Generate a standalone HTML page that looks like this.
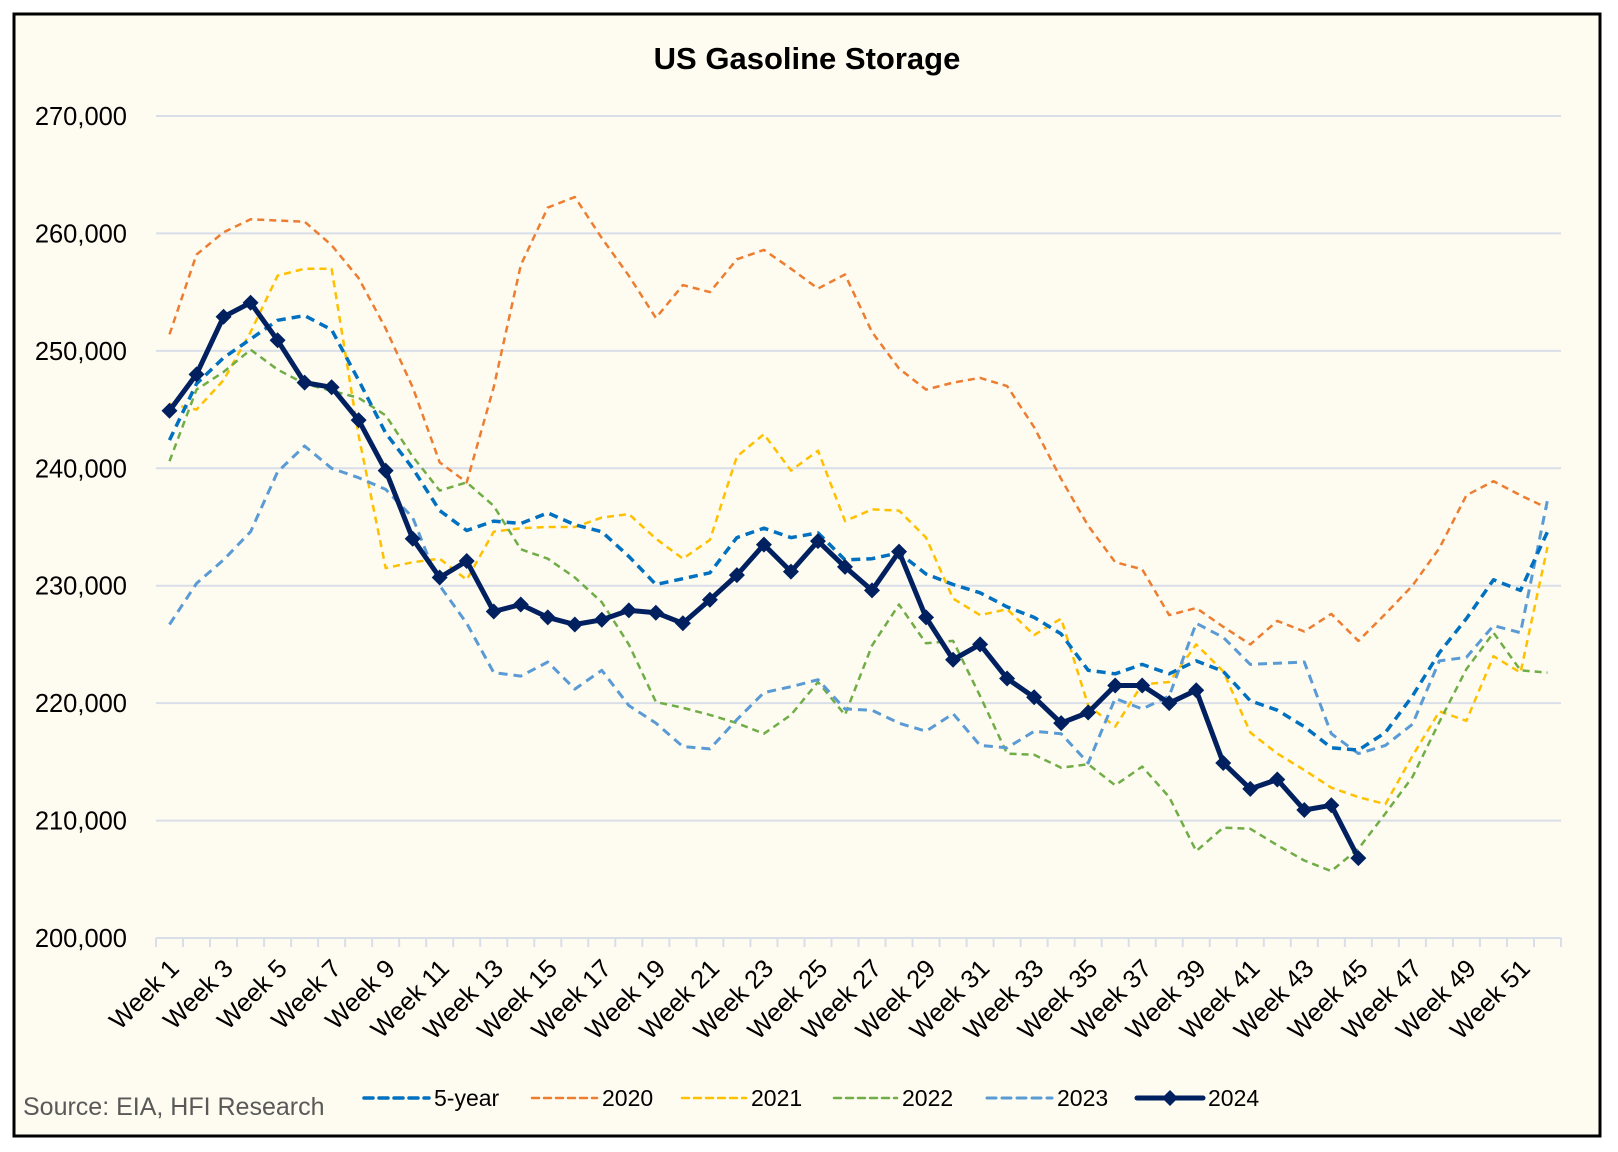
<!DOCTYPE html>
<html><head><meta charset="utf-8"><style>
html,body{margin:0;padding:0;background:#fff;}
svg{display:block;font-family:"Liberation Sans",sans-serif;}
</style></head><body>
<svg id="chart" width="1618" height="1152" viewBox="0 0 1618 1152" xmlns="http://www.w3.org/2000/svg">
<rect x="14" y="14" width="1586" height="1122" fill="#FEFCF0" stroke="#000" stroke-width="3"/>
<text x="807" y="69" text-anchor="middle" font-size="31" font-weight="bold" fill="#000">US Gasoline Storage</text>
<g id="grid"></g><g id="axes"></g><g id="series"></g>
<text x="23" y="1115" font-size="25" fill="#595959">Source: EIA, HFI Research</text>
<g id="legend"></g>
</svg>
<script>
const weeks = Array.from({length:52},(_,i)=>'Week '+(i+1));
const yTicks = [200000,210000,220000,230000,240000,250000,260000,270000];
const fiveYear = [242.4,247.2,249.4,251.0,252.6,253.0,251.8,247.5,243.0,240.0,236.4,234.7,235.5,235.3,236.2,235.2,234.6,232.5,230.1,230.6,231.1,234.1,234.9,234.1,234.5,232.2,232.3,232.8,231.0,230.1,229.4,228.2,227.3,225.9,222.8,222.5,223.3,222.5,223.6,222.7,220.2,219.4,218.0,216.2,216.0,217.5,220.6,224.3,227.2,230.5,229.6,234.6];
const y2020 = [251.4,258.2,260.1,261.2,261.1,261.0,259.0,256.2,251.9,246.9,240.5,238.8,246.9,257.3,262.2,263.1,259.6,256.4,252.8,255.6,255.0,257.8,258.6,257.0,255.3,256.5,251.6,248.5,246.7,247.3,247.7,247.0,243.5,239.1,235.1,232.0,231.4,227.5,228.1,226.5,225.0,227.0,226.1,227.6,225.3,227.6,230.0,233.2,237.7,238.9,237.7,236.6];
const y2021 = [245.5,245.0,247.5,251.6,256.4,257.0,257.0,242.8,231.5,232.0,232.3,230.5,234.6,234.9,235.0,235.0,235.8,236.1,234.0,232.3,233.9,241.0,242.9,239.8,241.5,235.5,236.5,236.4,234.1,228.9,227.5,228.0,225.8,227.2,219.8,218.0,221.6,221.8,225.0,222.7,217.5,215.7,214.3,212.8,212.0,211.4,215.5,219.3,218.5,224.0,222.6,233.3];
const y2022 = [240.6,246.7,248.2,250.1,248.4,247.2,246.6,246.0,244.5,241.0,238.1,238.8,236.8,233.1,232.3,230.7,228.6,225.0,220.1,219.6,219.0,218.3,217.4,219.0,221.8,219.0,224.9,228.4,225.1,225.3,220.6,215.7,215.6,214.5,214.8,213.0,214.6,212.0,207.4,209.4,209.3,207.9,206.6,205.7,207.6,210.6,213.7,218.4,222.9,226.0,222.8,222.6];
const y2023 = [226.7,230.2,232.2,234.6,239.7,241.9,240.0,239.2,238.2,235.8,230.0,226.8,222.6,222.3,223.5,221.2,222.8,219.8,218.3,216.3,216.1,218.6,220.9,221.4,222.0,219.5,219.4,218.3,217.6,219.1,216.4,216.2,217.6,217.4,214.9,220.4,219.5,220.6,226.8,225.6,223.3,223.4,223.5,217.4,215.7,216.4,218.2,223.6,223.9,226.6,226.0,237.3];
const y2024 = [244.9,248.0,252.9,254.1,250.9,247.3,246.9,244.1,239.8,234.0,230.7,232.1,227.8,228.4,227.3,226.7,227.1,227.9,227.7,226.8,228.8,230.9,233.5,231.2,233.8,231.6,229.6,232.9,227.3,223.7,225.0,222.1,220.5,218.3,219.2,221.5,221.5,220.0,221.1,214.9,212.7,213.5,210.9,211.3,206.8];

const X0=156,X1=1561,Y0=938,Y1=116,NS='http://www.w3.org/2000/svg';
const band=(X1-X0)/weeks.length;
const x=i=>X0+band*(i+0.5);
const y=v=>Y0-(v-200000)/70000*(Y0-Y1);
function mk(tag,attrs,parent){const e=document.createElementNS(NS,tag);for(const k in attrs)e.setAttribute(k,attrs[k]);parent.appendChild(e);return e;}
const grid=document.getElementById('grid'),axes=document.getElementById('axes'),ser=document.getElementById('series'),leg=document.getElementById('legend');
yTicks.forEach(t=>{
  const l=mk('line',{x1:X0,x2:X1,y1:y(t),y2:y(t),stroke:'#D9DEE8','stroke-width':2},grid);
  
  
  const tx=mk('text',{x:127,y:y(t)+9,'text-anchor':'end','font-size':25.5,fill:'#000'},axes);
  tx.textContent=t.toLocaleString('en-US');
  
  
});
for(let i=0;i<=weeks.length;i++){
  const tk=mk('line',{x1:X0+band*i,x2:X0+band*i,y1:Y0,y2:Y0+9,stroke:'#D9DEE8','stroke-width':2},axes);
  
  
}
weeks.forEach((w,i)=>{
  if(i%2) return;
  const cx=x(i)+11, cy=970;
  const t=mk('text',{x:cx,y:cy,'text-anchor':'end','font-size':25.5,fill:'#000',transform:`rotate(-45 ${cx} ${cy})`},axes);
  t.textContent=w;
  
  
});
const seriesDefs=[
  {name:'2020',data:y2020,color:'#ED7D31',w:2.5,dash:'7 5'},
  {name:'2021',data:y2021,color:'#FFC000',w:2.5,dash:'7 5'},
  {name:'2022',data:y2022,color:'#70AD47',w:2.5,dash:'7 5'},
  {name:'2023',data:y2023,color:'#5B9BD5',w:3,dash:'9 6'},
  {name:'5-year',data:fiveYear,color:'#0070C0',w:3.5,dash:'9 6'},
  {name:'2024',data:y2024,color:'#002060',w:5,dash:null,marker:true}
];
seriesDefs.forEach(s=>{
  const pts=s.data.map((v,i)=>x(i).toFixed(1)+','+y(v*1000).toFixed(1)).join(' ');
  const a={points:pts,fill:'none',stroke:s.color,'stroke-width':s.w,'stroke-linejoin':'round'};
  if(s.dash)a['stroke-dasharray']=s.dash;
  const p=mk('polyline',a,ser);
  
  
  if(s.marker){s.data.forEach((v,i)=>{
    const cx=x(i),cy=y(v*1000),r=8;
    const m=mk('polygon',{points:`${cx},${cy-r} ${cx+r},${cy} ${cx},${cy+r} ${cx-r},${cy}`,fill:s.color},ser);
    
    
  });}
});
const legItems=[
  {name:'5-year',color:'#0070C0',w:3.5,dash:'9 6',x1:364,x2:429},
  {name:'2020',color:'#ED7D31',w:2.5,dash:'7 5',x1:532,x2:597},
  {name:'2021',color:'#FFC000',w:2.5,dash:'7 5',x1:682,x2:746},
  {name:'2022',color:'#70AD47',w:2.5,dash:'7 5',x1:834,x2:897},
  {name:'2023',color:'#5B9BD5',w:3,dash:'9 6',x1:987,x2:1052},
  {name:'2024',color:'#002060',w:5,dash:null,x1:1137,x2:1203,marker:true}
];
legItems.forEach(it=>{
  const g=mk('g',{},leg);
  
  
  const a={x1:it.x1,x2:it.x2,y1:1098,y2:1098,stroke:it.color,'stroke-width':it.w,'stroke-linecap':'round'};
  if(it.dash)a['stroke-dasharray']=it.dash;
  mk('line',a,g);
  if(it.marker){const c=(it.x1+it.x2)/2;mk('polygon',{points:`${c},1090 ${c+8},1098 ${c},1106 ${c-8},1098`,fill:it.color},g);}
  const t=mk('text',{x:it.x2+5,y:1106,'font-size':23,fill:'#000'},g);
  t.textContent=it.name;
});
</script>
</body></html>
